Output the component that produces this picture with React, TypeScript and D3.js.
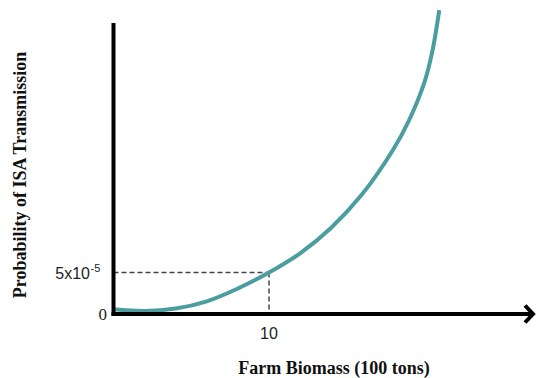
import React from "react";
import * as d3 from "d3";

// biomass in 100 tons, probability in units of 1e-5
const biomass = [0, 2, 4, 6, 8, 10, 12, 14, 16, 18, 19, 20, 20.5, 20.95];
const probability = [0.4, 0.2, 0.5, 1.4, 3.0, 5.0, 7.4, 10.6, 14.8, 20.4, 24.0, 28.8, 32.6, 37.8];
const markX = 10;
const markY = 5;

const W = 536;
const H = 378;

export default function App() {
  const x = d3.scaleLinear().domain([0, 10]).range([113.5, 269]);
  const y = d3.scaleLinear().domain([0, 5]).range([312.5, 272.5]);

  const pts: [number, number][] = biomass.map((b, i) => [x(b), y(probability[i])]);
  const line = d3.line().curve(d3.curveCatmullRom.alpha(0.5))(pts) || "";

  const axisY = 314;
  const axisX = 113.5;

  return (
    <svg width={W} height={H} style={{ position: "absolute", left: 0, top: 0, background: "#fff" }}>
      {/* dashed guides */}
      <line x1={axisX} x2={x(markX)} y1={y(markY)} y2={y(markY)} stroke="#444" strokeWidth={1.5} strokeDasharray="5,3" />
      <line x1={x(markX)} x2={x(markX)} y1={y(markY)} y2={axisY} stroke="#444" strokeWidth={1.5} strokeDasharray="5,3" />

      <path d={line} fill="none" stroke="#4b9d9f" strokeWidth={4} strokeLinecap="butt" />

      {/* axes */}
      <line x1={axisX} x2={axisX} y1={23} y2={axisY + 2} stroke="#000" strokeWidth={4} />
      <line x1={axisX - 2} x2={533} y1={axisY} y2={axisY} stroke="#000" strokeWidth={4} />
      <polyline points={`525,305.5 533,314 525,322.5`} fill="none" stroke="#000" strokeWidth={4} />

      {/* tick labels */}
      <text x={90} y={y(markY) + 6} textAnchor="end" fontFamily="Liberation Sans, Arial" fontSize={16} fill="#222">
        5x10
      </text>
      <text x={90.5} y={y(markY) - 1} fontFamily="Liberation Sans, Arial" fontSize={11} fill="#222">
        -5
      </text>
      <text x={107} y={axisY + 6} textAnchor="end" fontFamily="Liberation Serif, Times New Roman" fontSize={17} fill="#222">
        0
      </text>
      <text x={x(markX)} y={339} textAnchor="middle" fontFamily="Liberation Sans, Arial" fontSize={16} fill="#222">
        10
      </text>

      {/* axis titles */}
      <text x={334} y={374} textAnchor="middle" fontFamily="Liberation Serif, Times New Roman" fontWeight="bold" fontSize={18} fill="#111">
        Farm Biomass (100 tons)
      </text>
      <text
        transform="translate(26,175) rotate(-90)"
        textAnchor="middle"
        fontFamily="Liberation Serif, Times New Roman"
        fontWeight="bold"
        fontSize={18}
        fill="#111"
      >
        Probability of ISA Transmission
      </text>
    </svg>
  );
}
